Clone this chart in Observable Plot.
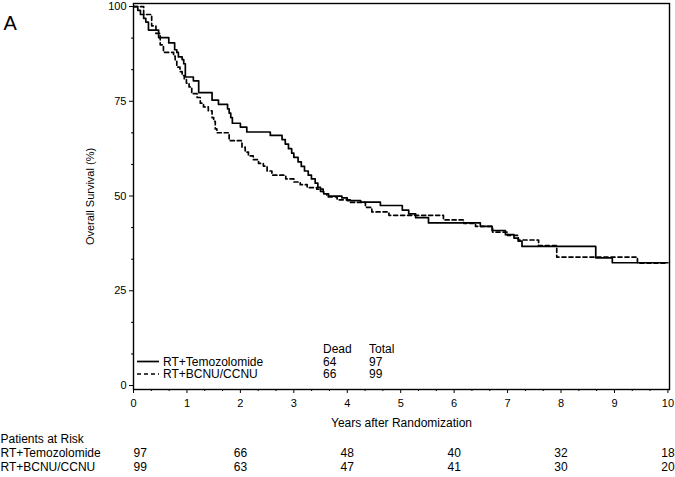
<!DOCTYPE html>
<html>
<head>
<meta charset="utf-8">
<script src="https://cdn.jsdelivr.net/npm/d3@7"></script>
<script src="https://cdn.jsdelivr.net/npm/@observablehq/plot@0.6"></script>
<style>
  html, body { margin: 0; padding: 0; background: white; }
  #chart { width: 675px; height: 477px; }
</style>
</head>
<body>
<div id="chart"></div>
<script>
const FONT = "'Liberation Sans', Arial, sans-serif";

// Kaplan–Meier step values
const tmzTime = [0,0.08,0.13,0.19,0.23,0.28,0.47,0.66,0.77,0.81,0.84,0.91,0.94,0.97,1.12,1.22,1.47,1.59,1.76,1.79,1.82,1.85,2.0,2.12,2.56,2.78,2.84,2.90,2.96,3.0,3.08,3.14,3.2,3.27,3.33,3.40,3.45,3.50,3.56,3.65,3.9,4.0,4.25,4.62,5.03,5.15,5.28,5.52,6.49,6.71,6.96,7.12,7.2,7.27,8.65,8.96,10.0];
const tmzSurv = [100,99.0,97.9,96.9,95.9,93.8,91.8,90.4,88.6,87.9,86.7,86.0,84.9,81.4,80.4,77.3,75.3,74.2,73.0,71.9,70.7,69.2,68.2,66.9,66.0,64.9,63.7,62.5,61.3,60.2,59.0,57.8,56.6,55.5,54.5,53.4,52.3,51.2,50.6,50.0,49.5,48.8,48.4,47.5,46.3,45.3,44.3,42.9,42.0,40.9,39.8,38.9,38.1,36.7,33.7,32.4,32.4];

const bcnuTime = [0,0.19,0.34,0.42,0.5,0.56,0.75,0.78,0.81,0.87,0.91,0.95,0.99,1.04,1.09,1.19,1.25,1.31,1.40,1.47,1.50,1.53,1.56,1.79,2.03,2.09,2.15,2.24,2.34,2.43,2.5,2.59,2.85,3.0,3.12,3.25,3.43,3.55,3.62,3.81,4.06,4.34,4.46,4.78,5.8,6.18,6.4,6.72,7.0,7.2,7.58,7.92,9.43,10.0];
const bcnuSurv = [100,97.9,94.9,92.9,89.9,87.9,86.9,85.9,84.0,82.8,81.8,80.8,79.8,78.8,77.0,76.0,74.5,73.5,72.5,70.7,69.7,67.7,66.7,64.6,62.9,61.6,60.6,59.6,58.6,57.9,56.6,55.5,54.5,53.7,53.0,52.2,51.8,50.6,49.8,49.0,48.3,47.0,45.8,44.9,43.7,42.8,42.0,40.5,39.6,38.4,36.9,33.9,32.3,32.3];

// Legend table
const groups = ["RT+Temozolomide", "RT+BCNU/CCNU"];
const dead = [64, 66];
const total = [97, 99];

// Axis ticks
const xTicks = [0,1,2,3,4,5,6,7,8,9,10];
const yTicks = [0,25,50,75,100];

// Patients at risk
const riskYears = [0,2,4,6,8,10];
const riskTmz = [97,66,48,40,32,18];
const riskBcnu = [99,63,47,41,30,20];

const panelLabel = "A";
const xLabel = "Years after Randomization";
const yLabel = "Overall Survival (%)";
const riskTitle = "Patients at Risk";

const tmz = tmzTime.map((t, i) => ({t, s: tmzSurv[i]}));
const bcnu = bcnuTime.map((t, i) => ({t, s: bcnuSurv[i]}));
const xMinor = d3.range(0, 30).filter(i => i % 3 !== 0).map(i => i / 3);
const yMinor = d3.range(0, 12).filter(i => i % 3 !== 0).map(i => i * 25 / 3);

const riskRows = [];
riskYears.forEach((y, i) => {
  riskRows.push({year: y, n: riskTmz[i], row: 0});
  riskRows.push({year: y, n: riskBcnu[i], row: 1});
});

const dashes = ["none", "4,3"];

function legendMark(index, scales, values, dim) {
  const g = d3.create("svg:g")
    .attr("font-family", FONT)
    .attr("font-size", 12)
    .attr("text-anchor", "start")
    .attr("fill", "black");
  const x0 = dim.marginLeft;
  const yb = dim.height - dim.marginBottom;
  const rowY = [yb - 27.5, yb - 15];
  g.append("text").attr("x", x0 + 190).attr("y", yb - 40).attr("dy", "0.35em").text("Dead");
  g.append("text").attr("x", x0 + 236).attr("y", yb - 40).attr("dy", "0.35em").text("Total");
  groups.forEach((name, i) => {
    g.append("line")
      .attr("x1", x0 + 4).attr("x2", x0 + 26)
      .attr("y1", rowY[i]).attr("y2", rowY[i])
      .attr("stroke", "black").attr("stroke-width", 1.7)
      .attr("stroke-dasharray", dashes[i]);
    g.append("text").attr("x", x0 + 30).attr("y", rowY[i]).attr("dy", "0.35em").text(name);
    g.append("text").attr("x", x0 + 190).attr("y", rowY[i]).attr("dy", "0.35em").text(dead[i]);
    g.append("text").attr("x", x0 + 236).attr("y", rowY[i]).attr("dy", "0.35em").text(total[i]);
  });
  return g.node();
}

const chart = Plot.plot({
  width: 675,
  height: 477,
  marginTop: 3,
  marginLeft: 133,
  marginRight: 6,
  marginBottom: 88,
  style: {fontFamily: FONT, fontSize: "11px", color: "black", background: "white"},
  x: {domain: [0, 10.03]},
  y: {domain: [-1.05, 100.8]},
  marks: [
    Plot.axisX(xTicks, {tickSize: 4, tickPadding: 6, fontSize: 11, label: null}),
    Plot.axisX(xMinor, {tickSize: 2, tickFormat: () => "", label: null}),
    Plot.axisY(yTicks, {tickSize: 4, tickPadding: 3, fontSize: 11, label: null}),
    Plot.axisY(yMinor, {tickSize: 2, tickFormat: () => "", label: null}),
    Plot.line(tmz, {x: "t", y: "s", curve: "step-after", stroke: "black", strokeWidth: 1.7}),
    Plot.line(bcnu, {x: "t", y: "s", curve: "step-after", stroke: "black", strokeWidth: 1.7, strokeDasharray: "4,3"}),
    Plot.frame({stroke: "black", strokeWidth: 1.4}),
    legendMark,
    Plot.text([yLabel], {frameAnchor: "left", text: d => d, rotate: -90, dx: -43, fontSize: 11, textAnchor: "middle"}),
    Plot.text([xLabel], {frameAnchor: "bottom", text: d => d, dy: 37, fontSize: 12}),
    Plot.text([panelLabel], {frameAnchor: "top-left", text: d => d, dx: -130, dy: 12, fontSize: 20, textAnchor: "start"}),
    Plot.text([riskTitle], {frameAnchor: "bottom-left", text: d => d, dx: -133, dy: 53, fontSize: 12, textAnchor: "start"}),
    Plot.text(groups.slice(0, 1), {frameAnchor: "bottom-left", text: d => d, dx: -133, dy: 67, fontSize: 12, textAnchor: "start"}),
    Plot.text(groups.slice(1, 2), {frameAnchor: "bottom-left", text: d => d, dx: -133, dy: 81, fontSize: 12, textAnchor: "start"}),
    Plot.text(riskRows.filter(d => d.row === 0 && d.year === 0), {x: "year", text: "n", frameAnchor: "bottom", dy: 67, fontSize: 12, textAnchor: "start"}),
    Plot.text(riskRows.filter(d => d.row === 1 && d.year === 0), {x: "year", text: "n", frameAnchor: "bottom", dy: 81, fontSize: 12, textAnchor: "start"}),
    Plot.text(riskRows.filter(d => d.row === 0 && d.year !== 0), {x: "year", text: "n", frameAnchor: "bottom", dy: 67, fontSize: 12}),
    Plot.text(riskRows.filter(d => d.row === 1 && d.year !== 0), {x: "year", text: "n", frameAnchor: "bottom", dy: 81, fontSize: 12})
  ]
});
document.getElementById("chart").appendChild(chart);
</script>
</body>
</html>
